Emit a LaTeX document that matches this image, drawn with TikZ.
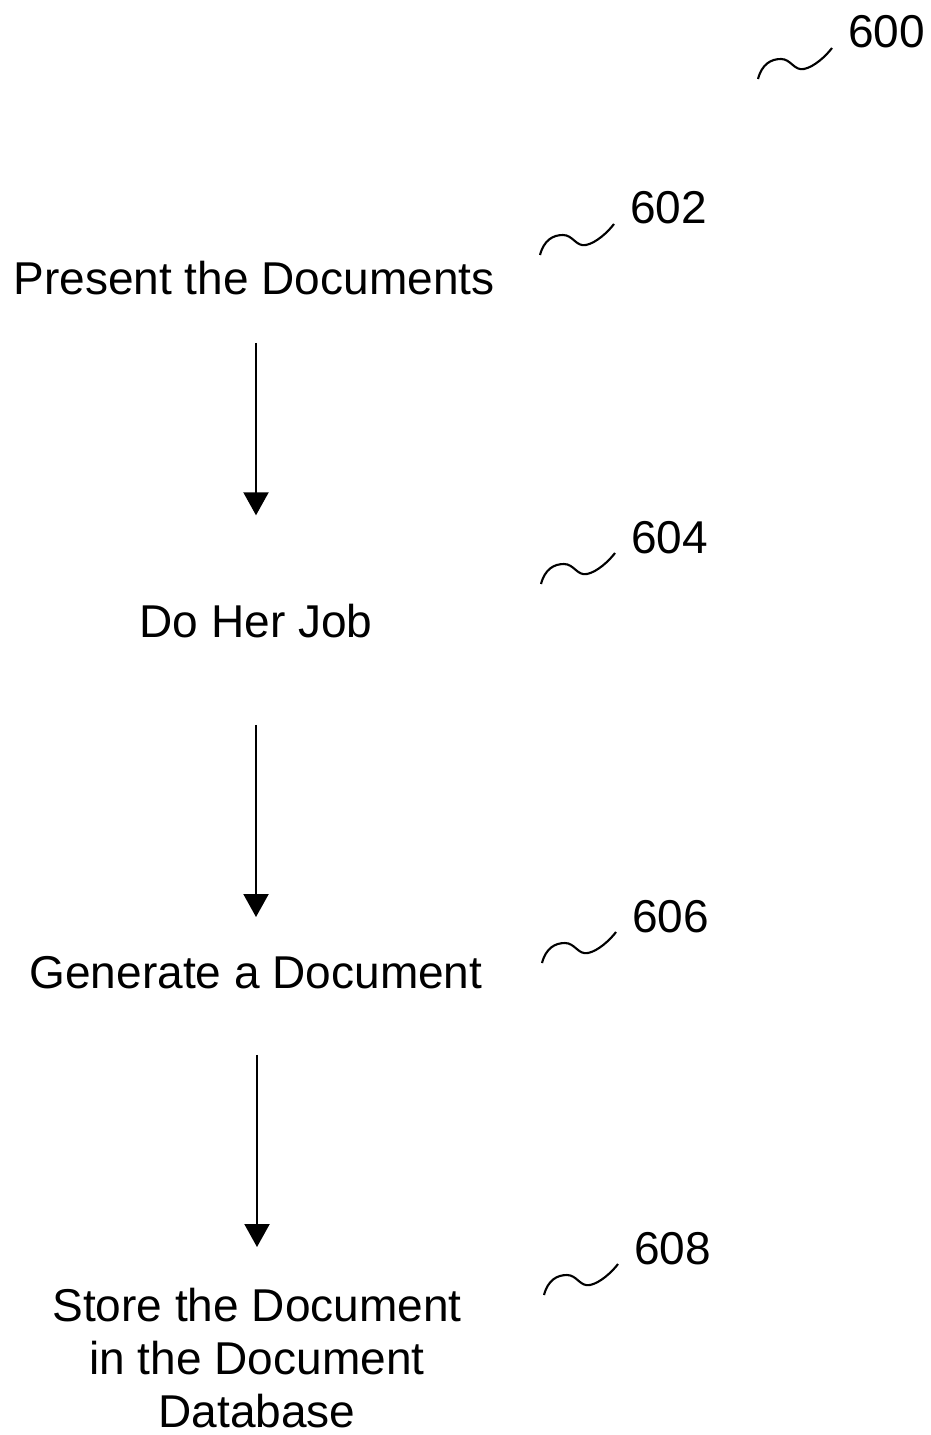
\documentclass[tikz,border=0pt]{standalone}
\usepackage{fontspec}
\setmainfont{Liberation Sans}
\usetikzlibrary{arrows.meta}

\begin{document}
\begin{tikzpicture}[x=0.02cm,y=-0.02cm]
        \tikzstyle{every node}=[inner sep=0pt, font=\fontsize{26.2}{30.2}\selectfont]
        \tikzstyle{flow}=[-{Triangle[width=0.5cm,length=0.46cm]}, line width=1.2pt]
        \tikzstyle{wave}=[line width=1.2pt]

        \useasboundingbox (0,0) rectangle (930,1435);

        \node[anchor=base](present)at(254,295){Present the Documents};
        \node[anchor=base](job)at(256,637){Do Her Job};
        \node[anchor=base](generate)at(256,988){Generate a Document};
        \node[anchor=north, align=center](store)at(257,1288){Store the Document\\in the Document\\Database};

        \node[anchor=base west](l600)at(848,48){600};
        \node[anchor=base west](l602)at(630,224){602};
        \node[anchor=base west](l604)at(631,553){604};
        \node[anchor=base west](l606)at(632,932){606};
        \node[anchor=base west](l608)at(634,1264){608};

        \draw[flow, shorten <=0.94cm, shorten >=1.76cm] (present.south -| job) -- (job.north);
        \draw[flow, shorten <=1.74cm, shorten >=0.77cm] (job.south) -- (generate.north);
        \draw[flow, shorten <=1.32cm, shorten >=0.82cm] (generate.south -| store) -- (store.north);

        \foreach \n in {600,602,604,606,608}
            \draw[wave] ([shift={(-90,31)}]l\n.base west)
                .. controls +(4,-15) and +(-10,0) .. ++(23,-20)
                .. controls +(10,0) and +(-10,2) .. ++(23,10)
                .. controls +(10,-2) and +(-6,8) .. ++(28,-21);
    \end{tikzpicture}
\end{document}
